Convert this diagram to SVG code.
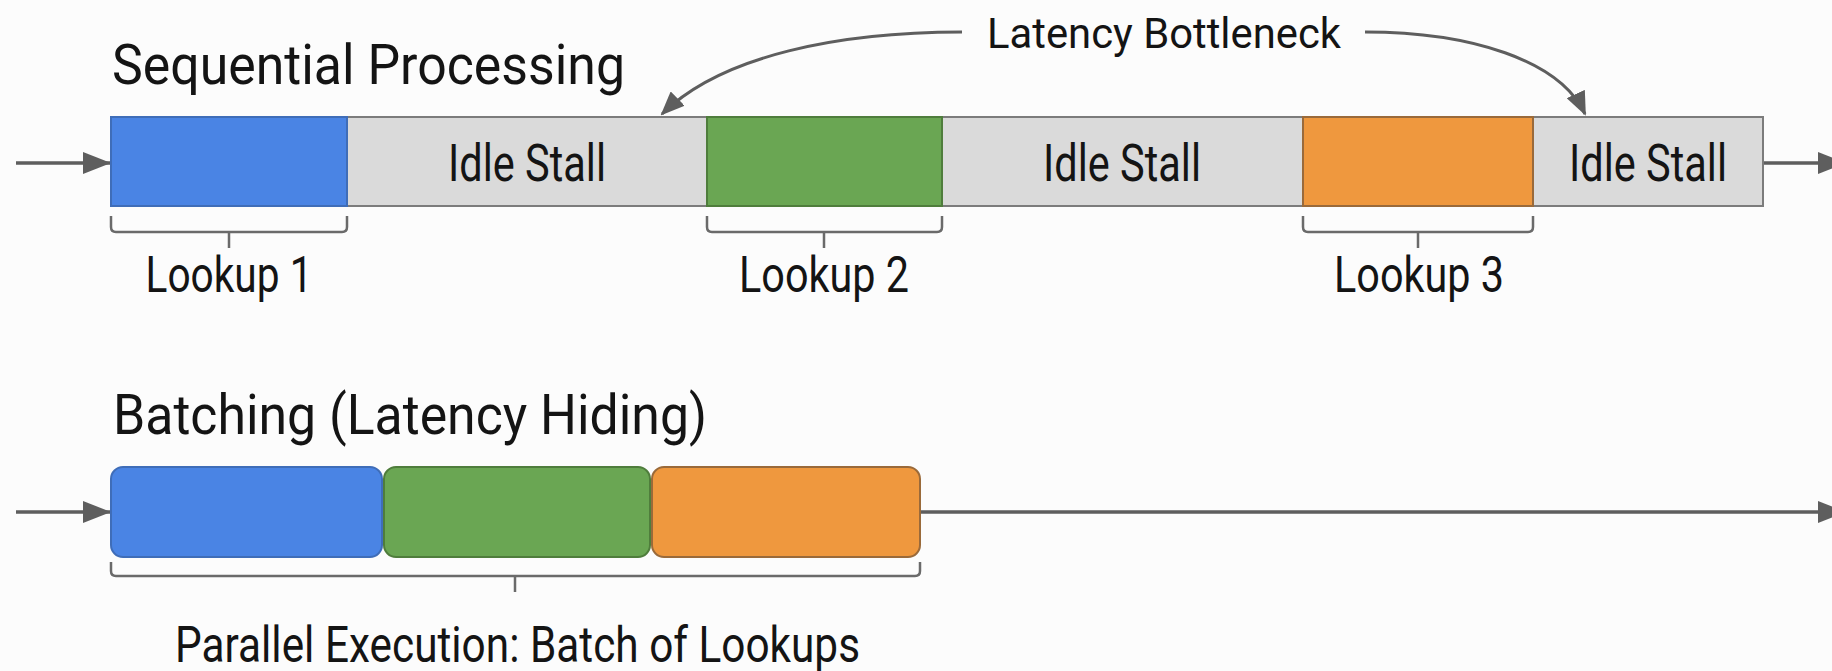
<svg xmlns="http://www.w3.org/2000/svg" width="1832" height="671" viewBox="0 0 1832 671">
  <style>
    .title { font-family: Roboto, "Liberation Sans", sans-serif; font-size: 55px; fill: #141414; }
    .label { font-family: Roboto, "Liberation Sans", sans-serif; font-size: 50px; fill: #141414; }
    .stall { font-family: Roboto, "Liberation Sans", sans-serif; font-size: 52px; fill: #141414; }
    .note  { font-family: Roboto, "Liberation Sans", sans-serif; font-size: 42px; fill: #141414; }
    .bar   { fill: #dadada; stroke: #7c7c7c; stroke-width: 2; }
    .blue   { fill: #4a84e4; stroke: #3f6db8; stroke-width: 2; }
    .green  { fill: #6aa653; stroke: #4f7d3c; stroke-width: 2; }
    .orange { fill: #ef983e; stroke: #9a6a3a; stroke-width: 2; }
    .line  { fill: none; stroke: #5e5e5e; stroke-width: 3.5; }
    .curve { fill: none; stroke: #5e5e5e; stroke-width: 3; }
    .brace { fill: none; stroke: #6a6a6a; stroke-width: 2.5; }
  </style>
  <defs>
    <marker id="head" markerUnits="userSpaceOnUse" markerWidth="28" markerHeight="22" refX="28" refY="11" orient="auto">
      <path d="M0,0 L28,11 L0,22 z" fill="#5e5e5e"/>
    </marker>
    <marker id="head-curve" markerUnits="userSpaceOnUse" markerWidth="24" markerHeight="20" refX="22" refY="10" orient="auto">
      <path d="M0,0 L24,10 L0,20 z" fill="#5e5e5e"/>
    </marker>
  </defs>

  <rect width="1832" height="671" fill="#fcfcfc"/>

  <!-- section headings -->
  <text class="title" x="112" y="84" textLength="513" lengthAdjust="spacingAndGlyphs">Sequential Processing</text>
  <text class="title" x="113" y="434" textLength="594" lengthAdjust="spacingAndGlyphs">Batching (Latency Hiding)</text>

  <!-- connectors -->
  <g id="connectors">
    <path class="line" d="M16,163 H111" marker-end="url(#head)"/>
    <path class="line" d="M1763,163 H1846" marker-end="url(#head)"/>
    <path class="line" d="M16,512 H111" marker-end="url(#head)"/>
    <path class="line" d="M920,512 H1846" marker-end="url(#head)"/>
    <path class="curve" d="M962,32 C840,32 722,55 662,114" marker-end="url(#head-curve)"/>
    <path class="curve" d="M1365,32 C1470,32 1560,60 1585,114" marker-end="url(#head-curve)"/>
  </g>

  <!-- sequential timeline -->
  <g id="sequential-bar">
    <rect class="bar" x="111" y="117" width="1652" height="89"/>
  </g>
  <g id="lookup1">
    <rect class="blue" x="111" y="117" width="236" height="89"/>
    <path class="brace" d="M111,216 V227 Q111,232 116,232 H342 Q347,232 347,227 V216 M229,232 V248"/>
    <text class="label" x="229" y="292" text-anchor="middle" textLength="167" lengthAdjust="spacingAndGlyphs">Lookup 1</text>
  </g>
  <g id="stall1">
    <text class="stall" x="527" y="181" text-anchor="middle" textLength="158" lengthAdjust="spacingAndGlyphs">Idle Stall</text>
  </g>
  <g id="lookup2">
    <rect class="green" x="707" y="117" width="235" height="89"/>
    <path class="brace" d="M707,216 V227 Q707,232 712,232 H937 Q942,232 942,227 V216 M824,232 V248"/>
    <text class="label" x="824" y="292" text-anchor="middle" textLength="170" lengthAdjust="spacingAndGlyphs">Lookup 2</text>
  </g>
  <g id="stall2">
    <text class="stall" x="1122" y="181" text-anchor="middle" textLength="158" lengthAdjust="spacingAndGlyphs">Idle Stall</text>
  </g>
  <g id="lookup3">
    <rect class="orange" x="1303" y="117" width="230" height="89"/>
    <path class="brace" d="M1303,216 V227 Q1303,232 1308,232 H1528 Q1533,232 1533,227 V216 M1418,232 V248"/>
    <text class="label" x="1419" y="292" text-anchor="middle" textLength="170" lengthAdjust="spacingAndGlyphs">Lookup 3</text>
  </g>
  <g id="stall3">
    <text class="stall" x="1648" y="181" text-anchor="middle" textLength="158" lengthAdjust="spacingAndGlyphs">Idle Stall</text>
  </g>
  <g id="bottleneck-label">
    <text class="note" x="987" y="48" textLength="354" lengthAdjust="spacingAndGlyphs">Latency Bottleneck</text>
  </g>

  <!-- batched timeline -->
  <g id="batch-lookup1">
    <rect class="blue" x="111" y="467" width="271" height="90" rx="12"/>
  </g>
  <g id="batch-lookup2">
    <rect class="green" x="384" y="467" width="266" height="90" rx="12"/>
  </g>
  <g id="batch-lookup3">
    <rect class="orange" x="652" y="467" width="268" height="90" rx="12"/>
  </g>
  <g id="batch-label">
    <path class="brace" d="M111,562 V571 Q111,576 116,576 H915 Q920,576 920,571 V562 M515,576 V592"/>
    <text class="label" x="175" y="662" textLength="685" lengthAdjust="spacingAndGlyphs">Parallel Execution: Batch of Lookups</text>
  </g>
</svg>
